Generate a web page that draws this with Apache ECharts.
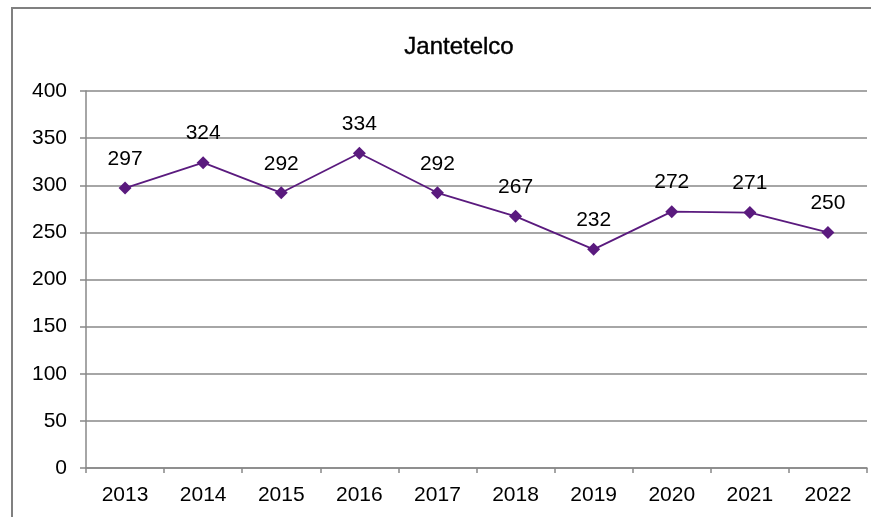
<!DOCTYPE html>
<html><head><meta charset="utf-8">
<script src="https://cdn.jsdelivr.net/npm/echarts@6/dist/echarts.min.js"></script>
<style>html,body{margin:0;padding:0;background:#fff}#c{width:871px;height:517px}</style>
</head><body><div id="c"></div>
<script>
const categories = ['2013','2014','2015','2016','2017','2018','2019','2020','2021','2022'];
const values = [297, 324, 292, 334, 292, 267, 232, 272, 271, 250];
const yTicks = [0, 50, 100, 150, 200, 250, 300, 350, 400];
const titleText = 'Jantetelco';

const chart = echarts.init(document.getElementById('c'), null, {renderer: 'canvas'});
const font = '"Liberation Sans", Arial, sans-serif';
chart.setOption({
  animation: false,
  backgroundColor: '#fff',
  graphic: [{
    type: 'rect', shape: {x: 12, y: 8, width: 880, height: 540},
    style: {fill: 'none', stroke: '#808080', lineWidth: 2}, silent: true
  }],
  title: {
    text: titleText, left: 454, top: 30, textAlign: 'center',
    textStyle: {fontFamily: font, fontSize: 24, fontWeight: 'normal', color: '#000', textBorderColor: '#000', textBorderWidth: 0.4}
  },
  grid: {left: 86, top: 91, right: 4, bottom: 49, containLabel: false},
  xAxis: {
    type: 'category', data: categories, boundaryGap: true,
    axisLine: {lineStyle: {color: '#888', width: 1.5}},
    axisTick: {show: true, length: 5, alignWithLabel: false, lineStyle: {color: '#888', width: 1.5}},
    axisLabel: {color: '#000', fontFamily: font, fontSize: 21, margin: 17}
  },
  yAxis: {
    type: 'value', min: yTicks[0], max: yTicks[yTicks.length - 1], interval: 50,
    axisLine: {show: true, lineStyle: {color: '#888', width: 1.5}},
    axisTick: {show: true, length: 6, lineStyle: {color: '#888', width: 1.5}},
    splitLine: {show: true, lineStyle: {color: '#888', width: 1.5}},
    axisLabel: {color: '#000', fontFamily: font, fontSize: 21, margin: 19}
  },
  series: [{
    type: 'line', data: values,
    symbol: 'diamond', symbolSize: 13,
    lineStyle: {color: '#5A1A7E', width: 1.8},
    itemStyle: {color: '#5A1A7E'},
    label: {show: true, position: 'top', distance: 12, color: '#000', fontFamily: font, fontSize: 21}
  }]
});
</script></body></html>
